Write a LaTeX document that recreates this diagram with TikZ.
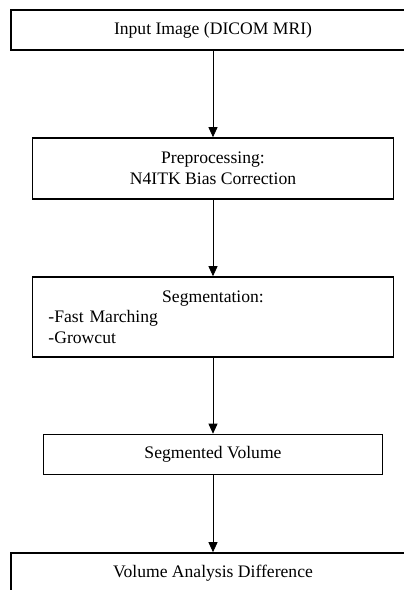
\documentclass[tikz,border=0pt]{standalone}
\usepackage{fontspec}
\setmainfont{Liberation Serif}
\usepackage{tikz}
\usetikzlibrary{positioning,arrows.meta}

\tikzset{
  stepbox/.style={draw,line width=1.6pt,rectangle,inner sep=0pt,
    minimum height=40pt},
}

\begin{document}
\begin{tikzpicture}[->,>={Triangle[length=10pt,width=9pt]},on grid,
      line width=0.8pt,font=\fontsize{17.6}{20.5}\selectfont]

      \path[use as bounding box,clip] (0,0) rectangle (404pt,-590pt);

      % input and preprocessing
      \node[stepbox,minimum width=404pt] (img) at (213pt,-30pt) {Input Image (DICOM MRI)};
      \node[stepbox,minimum width=361pt,minimum height=61pt,align=center]
        (pre) [below=138.5pt of img] {Preprocessing:\\N4ITK Bias Correction};
      % segmentation
      \node[stepbox,minimum width=361pt,minimum height=80pt,text width=329pt,align=left]
        (seg) [below=148.5pt of pre] {\makebox[329pt]{Segmentation:}\\-Fast Marching\\-Growcut};
      % results
      \node[stepbox,minimum width=339pt] (vol) [below=137.5pt of seg] {Segmented Volume};
      \node[stepbox,minimum width=404pt] (diff) [below=118.5pt of vol] {Volume Analysis Difference};

      \path
        (img) edge (pre)
        (pre) edge (seg)
        (seg) edge (vol)
        (vol) edge (diff);
\end{tikzpicture}
\end{document}
